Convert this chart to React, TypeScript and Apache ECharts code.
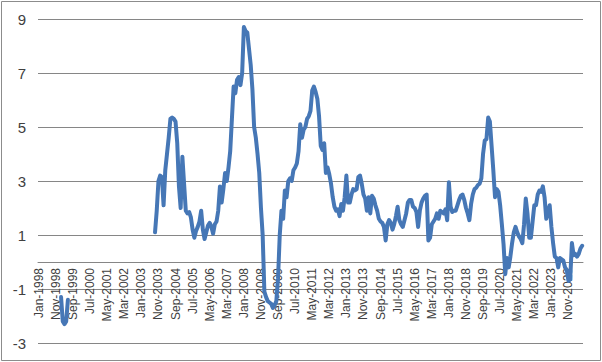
import React, { useEffect, useRef } from "react";
import * as echarts from "echarts";

const monthNames = ["Jan", "Feb", "Mar", "Apr", "May", "Jun", "Jul", "Aug", "Sep", "Oct", "Nov", "Dec"];
const firstYear = 1998;
const monthCount = 319; // Jan-1998 .. Jul-2024

const yTicks = [-3, -1, 1, 3, 5, 7, 9];

// fragment visible below the obscured area (starting at index 13 = Feb-1999)
const fragmentStart = 13;
const fragmentValues = [-1.3, -2.2, -2.3, -2.2, -1.4];

// main visible series, starting at index 68 = Sep-2003
const mainStart = 68;
const mainValues = [
  1.1, 1.9, 3.0, 3.2, 3.15, 2.1, 3.4, 4.0, 4.6, 5.3,
  5.35, 5.3, 5.2, 4.4, 2.8, 2.0, 3.9, 2.9, 1.9, 1.8,
  1.85, 1.65, 1.2, 0.9, 1.15, 1.3, 1.5, 1.9, 1.2, 0.85,
  1.1, 1.35, 1.45, 1.3, 1.05, 1.4, 1.5, 1.9, 2.8, 2.2,
  2.7, 3.3, 3.0, 3.5, 4.1, 5.3, 6.5, 6.25, 6.75, 6.85,
  6.55, 7.0, 8.7, 8.55, 8.5, 7.9, 7.3, 6.4, 5.0, 4.6,
  4.0, 3.3, 2.0, 1.0, -1.1, -1.3, -1.45, -1.5, -1.55, -1.7,
  -1.6, -1.45, -0.6, 1.0, 1.9, 1.6, 2.65, 2.4, 3.0, 3.1,
  3.0, 3.4, 3.5, 3.65, 4.1, 5.1, 4.6, 4.9, 5.0, 5.3,
  5.4, 5.6, 6.35, 6.5, 6.3, 6.05, 5.4, 4.3, 4.15, 4.4,
  3.3, 3.5, 3.25, 2.9, 2.4, 2.05, 1.9, 1.95, 1.7, 2.15,
  1.9, 2.4, 3.2, 2.2, 2.2, 2.5, 2.7, 2.65, 2.7, 3.15,
  3.2, 2.9, 2.5, 2.35, 1.9, 2.4, 1.8, 2.45, 2.35, 2.1,
  1.9, 1.6, 1.5, 1.45, 1.3, 0.8, 1.4, 1.55, 1.45, 1.2,
  1.4, 1.7, 2.05, 1.55, 1.4, 1.3, 1.55, 1.8, 2.2, 2.3,
  2.3, 2.05, 2.0, 1.85, 1.3, 1.9, 2.2, 2.35, 2.45, 2.5,
  0.8, 0.9, 1.4, 1.5, 1.6, 1.8, 1.6, 1.9, 1.85, 1.8,
  1.95, 1.55, 2.95, 2.05, 1.85, 1.9, 1.9, 2.1, 2.3, 2.45,
  2.5, 2.3, 2.0, 1.8, 1.55, 2.15, 2.5, 2.7, 2.75, 2.85,
  2.9, 3.1, 4.0, 4.5, 4.55, 5.35, 5.2, 4.3, 3.4, 2.4,
  2.7, 2.6, 2.1, 1.4, 0.65, -0.45, 0.15, -0.2, 0.2, 0.7,
  1.1, 1.3, 1.1, 0.95, 0.85, 0.7, 1.4, 2.35, 1.8, 0.9,
  0.9, 1.5, 2.1, 2.1, 2.5, 2.65, 2.6, 2.8, 2.4, 1.6,
  1.85, 2.1, 1.3, 0.7, 0.2, 0.15, -0.2, 0.15, 0.1, 0.05,
  -0.2, -0.3, -0.7, -0.65, 0.7, 0.25, 0.3, 0.2, 0.3, 0.5, 0.6,
];

const categories: string[] = [];
for (let i = 0; i < monthCount; i++) {
  const y = firstYear + Math.floor(i / 12);
  categories.push(`${monthNames[i % 12]}-${y}`);
}

const seriesData: (number | null)[] = categories.map(() => null);
fragmentValues.forEach((v, k) => (seriesData[fragmentStart + k] = v));
mainValues.forEach((v, k) => (seriesData[mainStart + k] = v));

const GRID_TOP = 19;
const GRID_BOTTOM = 19;
const GRID_HEIGHT = 362 - GRID_TOP - GRID_BOTTOM;
const yMin = yTicks[0];
const yMax = yTicks[yTicks.length - 1];

export default function App() {
  const ref = useRef<HTMLDivElement>(null);
  useEffect(() => {
    if (!ref.current) return;
    const chart = echarts.init(ref.current, undefined, { renderer: "svg" });
    // offset moves the category axis from the bottom (yMin) up to value 0
    const zeroOffset = -((0 - yMin) / (yMax - yMin)) * GRID_HEIGHT;
    chart.setOption({
      animation: false,
      backgroundColor: "#ffffff",
      grid: {
        left: 38,
        right: 19,
        top: GRID_TOP,
        bottom: GRID_BOTTOM,
        containLabel: false,
        outerBoundsMode: "none",
      },
      graphic: [
        {
          type: "rect",
          shape: { x: 1.5, y: 1.5, width: 599, height: 359 },
          style: { fill: "none", stroke: "#8c8c8c", lineWidth: 1 },
          silent: true,
        },
      ],
      xAxis: {
        type: "category",
        data: categories,
        boundaryGap: true,
        offset: zeroOffset,
        axisLine: { show: true, onZero: false, lineStyle: { color: "#868686", width: 1 } },
        axisTick: { show: false },
        axisLabel: {
          interval: 9,
          rotate: 90,
          margin: 6,
          fontSize: 12,
          color: "#404040",
          fontFamily: "Liberation Sans",
        },
        splitLine: { show: false },
      },
      yAxis: {
        type: "value",
        min: yMin,
        max: yMax,
        interval: 2,
        axisLine: { show: false },
        axisTick: { show: false },
        axisLabel: {
          margin: 12,
          fontSize: 15,
          color: "#404040",
          fontFamily: "Liberation Sans",
        },
        splitLine: { show: true, lineStyle: { color: "#868686", width: 1 } },
      },
      series: [
        {
          type: "line",
          data: seriesData,
          showSymbol: false,
          connectNulls: false,
          lineStyle: { color: "#4677b6", width: 4, join: "round", cap: "round" },
          itemStyle: { color: "#4677b6" },
        },
      ],
    });
    return () => chart.dispose();
  }, []);
  return (
    <div
      ref={ref}
      style={{ position: "fixed", left: 0, top: 0, width: 602, height: 362 }}
    />
  );
}
